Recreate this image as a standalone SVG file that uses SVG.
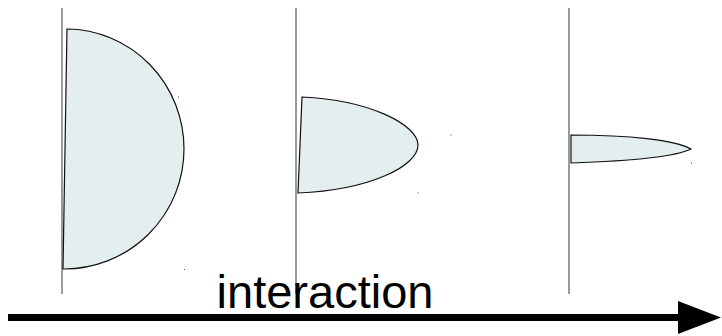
<svg xmlns="http://www.w3.org/2000/svg" width="722" height="336" viewBox="0 0 722 336">
<style>
.axis{stroke:#555;stroke-width:1.2;fill:none}
.shape{fill:#e4eeee;stroke:#111;stroke-width:1.2}
.dot{fill:#444}
.label{font-family:"Liberation Sans",Arial,sans-serif;font-size:47px;fill:#000}
</style>
<rect width="722" height="336" fill="#fff"/>
<g id="axes">
<line class="axis" x1="62" y1="8" x2="62" y2="294"/>
<line class="axis" x1="296" y1="8" x2="296" y2="294"/>
<line class="axis" x1="569" y1="8" x2="569" y2="294"/>
</g>
<g id="shape1">
<path class="shape" d="M67,29 A118,120 0 0 1 184,149 A120,120 0 0 1 63,269 Z"/>
<rect class="dot" x="178" y="96.5" width="1" height="1"/>
<rect class="dot" x="184" y="269" width="1" height="1"/>
</g>
<g id="shape2">
<path class="shape" d="M302,97 C370,100 418,125 418,145 C418,166 370,190 298,193 Z"/>
<rect class="dot" x="450.5" y="134.5" width="1" height="1"/>
<rect class="dot" x="417.5" y="192.5" width="1" height="1"/>
</g>
<g id="shape3">
<path class="shape" d="M571,135 C630,135 675,140 691,149 C675,157 630,161 571,163 Z"/>
<rect class="dot" x="691" y="162.5" width="1" height="1"/>
</g>
<g id="connectors">
<line x1="8" y1="317.5" x2="680" y2="317.5" stroke="#000" stroke-width="7"/>
<polygon points="678,301 721,317.5 678,334" fill="#000"/>
</g>
<text class="label" x="325" y="308" text-anchor="middle">interaction</text>
</svg>
